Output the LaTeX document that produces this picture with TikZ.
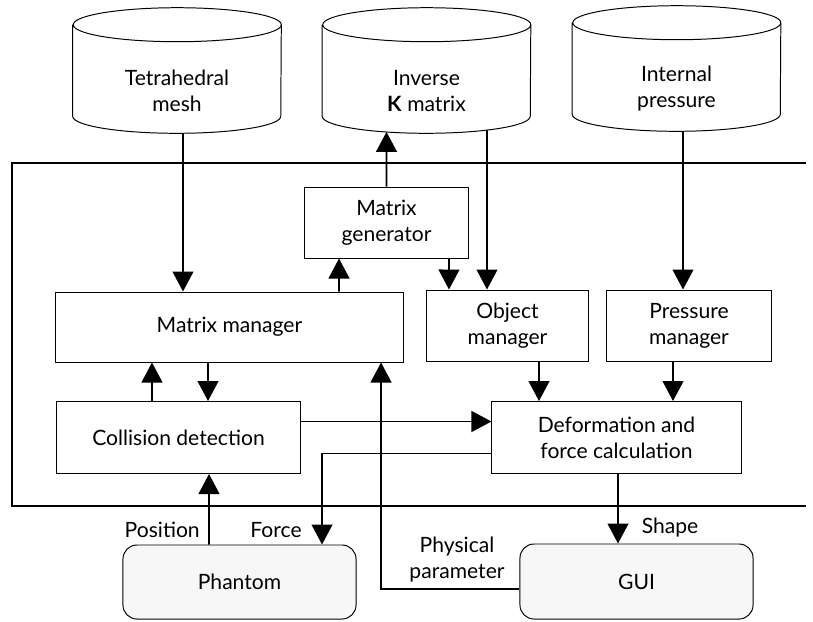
\documentclass[tikz,border=0pt]{standalone}
\usepackage{fontspec}
\setmainfont{Lato}
\usetikzlibrary{shapes.geometric, arrows.meta, positioning}

\tikzset{
  archivio/.style = {minimum width = 5.2cm, minimum height = 2.275cm, inner sep = 0pt},
  testoarchivio/.style = {align = center, yshift = -0.51cm},
  blocco/.style = {draw, line width = 0.7pt, align = center},
  periferica/.style = {draw, rounded corners = 0.35cm, fill = gray!6, line width = 0.7pt},
  freccia/.style = {line width = 1.3pt, arrows = {-Triangle[width = 0.52cm, length = 0.5cm]}},
  etichetta/.style = {inner sep = 0pt}
}

\begin{document}
\begin{tikzpicture}[x = 0.025cm, y = -0.025cm, font = \fontsize{15}{18.5}\selectfont]
        \useasboundingbox (0,0) rectangle (813,621);
        % Archivi
        \node[archivio, label = {[testoarchivio]center:{Tetrahedral\\mesh}}] (mesh) at (177,70.5) {};
        \node[archivio, label = {[testoarchivio]center:{Inverse\\\textbf{K} matrix}}] (inversa) at (426.5,70.5) {};
        \node[archivio, label = {[testoarchivio]center:{Internal\\pressure}}] (pressione) at (676.5,68.5) {};
        \foreach \n in {mesh, inversa, pressione}
            \draw[line width = 0.7pt] (\n.north west) -- (\n.south west)
                arc[start angle = 180, end angle = 360, x radius = 2.6cm, y radius = 0.425cm]
                -- (\n.north east) arc[start angle = 0, end angle = 360, x radius = 2.6cm, y radius = 0.425cm];
        % Riquadro del sistema
        \draw[line width = 0.8pt] (806,163) -- (12,163) -- (12,506) -- (806,506);
        % Blocchi
        \node[blocco, minimum width = 4.075cm, minimum height = 1.775cm] (generatore) at (386.5,222.5) {Matrix\\generator};
        \node[blocco, minimum width = 8.675cm, minimum height = 1.75cm] (gestore) at (229.5,327) {Matrix manager};
        \node[blocco, minimum width = 4.025cm, minimum height = 1.775cm] (oggetto) at (507.5,325.5) {Object\\manager};
        \node[blocco, minimum width = 4.1cm, minimum height = 1.775cm] (gestpress) at (689,325.5) {Pressure\\manager};
        \node[blocco, minimum width = 6.225cm, minimum height = 1.8cm] (deformazione) at (616.5,437.5) {Deformation and\\force calculation};
        \node[blocco, minimum width = 6.075cm, minimum height = 1.8cm] (collisione) at (178.5,437.5) {Collision detection};
        \node[periferica, minimum width = 5.825cm, minimum height = 1.85cm] (phantom) at (239.5,582) {Phantom};
        \node[periferica, minimum width = 5.825cm, minimum height = 1.875cm] (gui) at (636.5,581.5) {GUI};
        % Frecce
        \draw[freccia] ([xshift = 0.15cm, yshift = -0.42cm]mesh.south) -- ([xshift = -1.1625cm]gestore.north);
        \draw[freccia] ([xshift = 2.7375cm]gestore.north) -- ([xshift = -1.1875cm]generatore.south);
        \draw[freccia] (generatore.north) -- ([xshift = -1cm, yshift = -0.39cm]inversa.south);
        \draw[freccia] ([xshift = 1.5625cm]generatore.south) -- ([xshift = -1.4625cm]oggetto.north);
        \draw[freccia] ([xshift = 1.5125cm, yshift = -0.34cm]inversa.south) -- ([xshift = -0.5125cm]oggetto.north);
        \draw[freccia] ([xshift = 0.1625cm, yshift = -0.42cm]pressione.south) -- ([xshift = -0.15cm]gestpress.north);
        \draw[freccia] ([xshift = 0.7875cm]oggetto.south) -- ([xshift = -1.9375cm]deformazione.north);
        \draw[freccia] ([xshift = -0.4cm]gestpress.south) -- ([xshift = 1.4125cm]deformazione.north);
        \draw[freccia] ([xshift = -0.6625cm]collisione.north) -- ([xshift = -1.9375cm]gestore.south);
        \draw[freccia] ([xshift = -0.5375cm]gestore.south) -- ([xshift = 0.7375cm]collisione.north);
        \draw[freccia] ([yshift = 0.4cm]collisione.east) -- ([yshift = 0.4cm]deformazione.west);
        \draw[freccia] ([yshift = -0.4cm]deformazione.west) -| ([xshift = 2.0625cm]phantom.north);
        \draw[freccia] ([xshift = -0.7625cm]phantom.north) -- ([xshift = 0.7625cm]collisione.south);
        \draw[freccia] ([xshift = 0.0375cm]deformazione.south) -- ([xshift = -0.4625cm]gui.north);
        \draw[freccia] ([yshift = -0.1875cm]gui.west) -| ([xshift = 3.7875cm]gestore.south);
        % Etichette
        \node[etichetta, anchor = east] (lposizione) at (200,530) {Position};
        \node[etichetta] (lforza) at (276,530) {Force};
        \node[etichetta] (lforma) at (670,528) {Shape};
        \node[etichetta, align = center] (lparametro) at (457,560) {Physical\\parameter};
    \end{tikzpicture}
\end{document}
